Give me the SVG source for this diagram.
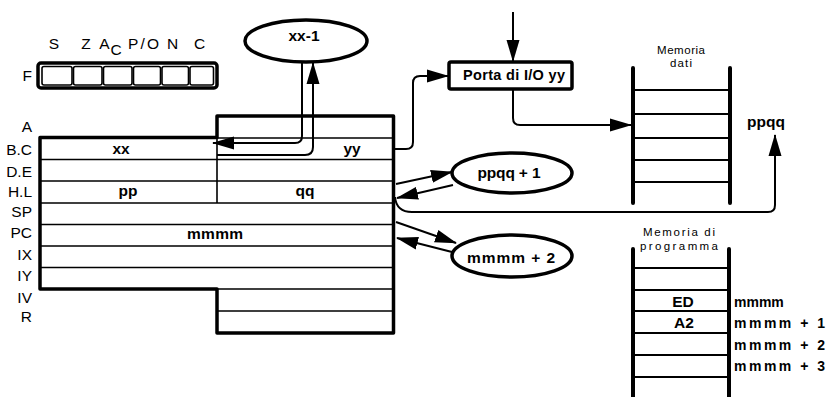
<svg xmlns="http://www.w3.org/2000/svg" width="828" height="397" viewBox="0 0 828 397">
<style>
text{font-family:"Liberation Sans",Arial,sans-serif;fill:#000}
.b{font-weight:bold;font-size:15.5px}
.r{font-size:15.5px}
.m{font-size:11.5px}
.s{font-weight:bold;font-size:14px}
.c{text-anchor:middle}
.e{text-anchor:end}
.thick{fill:none;stroke:#000;stroke-width:3.5;stroke-linejoin:round}
.thin{fill:none;stroke:#000;stroke-width:1.6}
.rail{fill:none;stroke:#000;stroke-width:4;stroke-linecap:round}
.conn{fill:none;stroke:#000;stroke-width:2}
</style>
<defs>
<marker id="ah" markerUnits="userSpaceOnUse" markerWidth="22" markerHeight="14" refX="21" refY="7" orient="auto">
<path d="M0,0.5 L22,7 L0,13.5 z" fill="#000"/>
</marker>
</defs>
<rect width="828" height="397" fill="#fff"/>

<g id="flags">
<text class="r c" x="54" y="49">S</text>
<text class="r c" x="86" y="49">Z</text>
<text class="r c" x="104.5" y="49">A</text>
<text class="r c" x="116" y="55">C</text>
<text class="r c" x="143.5" y="49" textLength="31">P/O</text>
<text class="r c" x="172.5" y="49">N</text>
<text class="r c" x="199.5" y="49">C</text>
<text class="r e" x="32" y="81">F</text>
<rect class="thick" x="38" y="63" width="179" height="25" rx="3"/>
<rect class="thin" x="42" y="66.5" width="30" height="18.5" rx="2"/>
<rect class="thin" x="73.5" y="66.5" width="28.5" height="18.5" rx="2"/>
<rect class="thin" x="103.5" y="66.5" width="28.5" height="18.5" rx="2"/>
<rect class="thin" x="133.5" y="66.5" width="27" height="18.5" rx="2"/>
<rect class="thin" x="162" y="66.5" width="26.5" height="18.5" rx="2"/>
<rect class="thin" x="190" y="66.5" width="23.5" height="18.5" rx="2"/>
</g>

<g id="registers">
<path class="thick" d="M40,137.5 H217 V116 H393.5 V333 H217 V289 H40 Z"/>
<path class="thin" d="M217,138 H393.5 M40,159.5 H393.5 M40,181 H393.5 M40,203 H393.5 M40,224.5 H393.5 M40,246 H393.5 M40,267.5 H393.5 M217,289 H393.5 M217,311 H393.5 M217,137.5 V203"/>
<text class="r e" x="32" y="132">A</text>
<text class="r e" x="32" y="155">B.C</text>
<text class="r e" x="32" y="177">D.E</text>
<text class="r e" x="32" y="197">H.L</text>
<text class="r e" x="32" y="217">SP</text>
<text class="r e" x="32" y="238">PC</text>
<text class="r e" x="32" y="260">IX</text>
<text class="r e" x="32" y="281">IY</text>
<text class="r e" x="32" y="303">IV</text>
<text class="r e" x="32" y="322">R</text>
<text class="b c" x="121" y="154">xx</text>
<text class="b c" x="352" y="154">yy</text>
<text class="b c" x="128" y="196">pp</text>
<text class="b c" x="305" y="196">qq</text>
<text class="b c" x="215" y="239" textLength="56">mmmm</text>
</g>

<g id="xx-1">
<ellipse class="thick" cx="306" cy="41" rx="61" ry="21"/>
<text class="b c" x="304" y="41">xx-1</text>
</g>

<g id="porta">
<rect class="thick" x="449" y="62" width="123" height="27" rx="2"/>
<text class="b c" x="514" y="80" textLength="102" style="font-size:14.5px">Porta di I/O yy</text>
</g>

<g id="ppqq1">
<ellipse class="thick" cx="512" cy="173" rx="60" ry="20"/>
<text class="b c" x="509" y="178" textLength="63">ppqq + 1</text>
</g>

<g id="mmmm2">
<ellipse class="thick" cx="512" cy="256" rx="60" ry="21"/>
<text class="b c" x="511" y="263" textLength="88">mmmm + 2</text>
</g>

<g id="memoria-dati">
<text class="m c" x="681" y="53.5" textLength="48">Memoria</text>
<text class="m c" x="681" y="67" textLength="22">dati</text>
<path class="rail" d="M633,68 V203 M730,68 V203"/>
<path class="thin" d="M633,90 H730 M633,114 H730 M633,138 H730 M633,160 H730 M633,182 H730" style="stroke-width:2"/>
<text class="b c" x="766" y="127" textLength="38">ppqq</text>
</g>

<g id="memoria-programma">
<text class="m c" x="679" y="236" textLength="72">Memoria di</text>
<text class="m c" x="679" y="250" textLength="78">programma</text>
<path class="rail" d="M633,249 V400 M729,249 V400"/>
<path class="thin" d="M633,268 H729 M633,290 H729 M633,311 H729 M633,333 H729 M633,355 H729 M633,377 H729" style="stroke-width:2"/>
<text class="b c" x="683" y="307">ED</text>
<text class="b c" x="684" y="328">A2</text>
<text class="s" x="734" y="307">mmmm</text>
<text class="s" x="734" y="328" textLength="91">mmmm + 1</text>
<text class="s" x="734" y="350" textLength="91">mmmm + 2</text>
<text class="s" x="734" y="371" textLength="91">mmmm + 3</text>
</g>

<g id="connectors">
<path class="conn" d="M302,62 V136 Q302,143 295,143 H213" marker-end="url(#ah)"/>
<path class="conn" d="M217,155 H305 Q313,155 313,147 V63" marker-end="url(#ah)"/>
<path class="conn" d="M513,12 V61" marker-end="url(#ah)"/>
<path class="conn" d="M395,149 H406 Q413,149 413,142 V83 Q413,76 420,76 H448" marker-end="url(#ah)"/>
<path class="conn" d="M513,90 V118 Q513,125 520,125 H631" marker-end="url(#ah)"/>
<path class="conn" d="M395,197 C396,208 402,212 412,212 H768 Q775,212 775,205 V135" marker-end="url(#ah)"/>
<path class="conn" d="M396,184 L452,172" marker-end="url(#ah)"/>
<path class="conn" d="M453,185 L397,198" marker-end="url(#ah)"/>
<path class="conn" d="M396,222 L456,243" marker-end="url(#ah)"/>
<path class="conn" d="M452,252 L397,238" marker-end="url(#ah)"/>
</g>
</svg>
